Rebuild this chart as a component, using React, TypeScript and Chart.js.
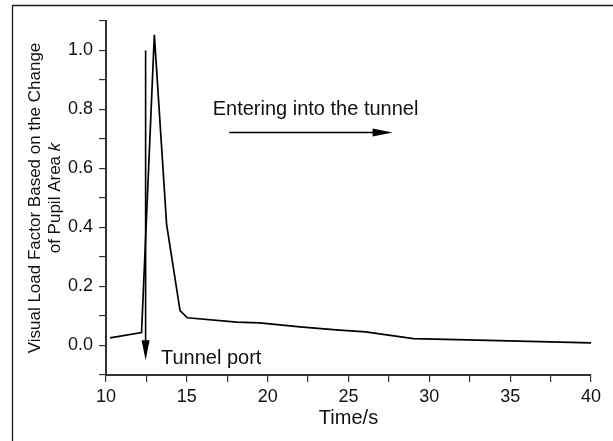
import React, { useEffect, useRef } from 'react';
import { Chart, registerables } from 'chart.js';

Chart.register(...registerables);

// Time (s) and visual load factor k
const timeValues = [10.25, 12.2, 12.99, 13.75, 14.58, 15.03, 18.08, 19.5, 22.0, 24.24, 26.05, 29.02, 33.0, 40.0];
const loadValues = [0.026, 0.044, 1.053, 0.41, 0.118, 0.094, 0.079, 0.077, 0.063, 0.053, 0.046, 0.023, 0.018, 0.009];

const xTickLabels = ['10', '15', '20', '25', '30', '35', '40'];
const yTickLabels = ['0.0', '0.2', '0.4', '0.6', '0.8', '1.0'];

const xTitle = 'Time/s';
const yTitleLine1 = 'Visual Load Factor Based on the Change';
const yTitleLine2 = 'of Pupil Area ';
const yTitleItalic = 'k';

// annotations in data coordinates
const portArrow = [12.45, 1.0, -0.05]; // x, yFrom, yTo
const enterArrow = [0.722, 17.62, 27.73]; // y, xFrom, xTo
const portLabel = { text: 'Tunnel port', x: 13.4, y: -0.062 };
const enterLabel = { text: 'Entering into the tunnel', x: 16.6, y: 0.782 };

const FONT = '"Liberation Sans", Arial, sans-serif';

const annotPlugin = {
  id: 'annot',
  afterDraw(chart: any) {
    const ctx = chart.ctx as CanvasRenderingContext2D;
    ctx.save();
    const xs = chart.scales.x;
    const ys = chart.scales.y;
    const ca = chart.chartArea;

    // outer frame (cropped on right/bottom)
    ctx.strokeStyle = '#1a1a1a';
    ctx.lineWidth = 1.3;
    ctx.beginPath();
    ctx.moveTo(12.5, chart.height + 5);
    ctx.lineTo(12.5, 5.5);
    ctx.lineTo(chart.width + 5, 5.5);
    ctx.stroke();

    ctx.fillStyle = '#000';
    ctx.strokeStyle = '#000';
    ctx.lineWidth = 1.6;

    // vertical arrow (tunnel port)
    const vx = xs.getPixelForValue(portArrow[0]);
    const vy1 = ys.getPixelForValue(portArrow[1]);
    const vy2 = ys.getPixelForValue(portArrow[2]);
    ctx.beginPath();
    ctx.moveTo(vx, vy1);
    ctx.lineTo(vx, vy2 - 18);
    ctx.stroke();
    ctx.beginPath();
    ctx.moveTo(vx - 4, vy2 - 20);
    ctx.lineTo(vx + 4, vy2 - 20);
    ctx.lineTo(vx, vy2);
    ctx.closePath();
    ctx.fill();

    // horizontal arrow (entering)
    const hy = ys.getPixelForValue(enterArrow[0]);
    const hx1 = xs.getPixelForValue(enterArrow[1]);
    const hx2 = xs.getPixelForValue(enterArrow[2]);
    ctx.beginPath();
    ctx.moveTo(hx1, hy);
    ctx.lineTo(hx2 - 18, hy);
    ctx.stroke();
    ctx.beginPath();
    ctx.moveTo(hx2 - 20, hy - 4);
    ctx.lineTo(hx2 - 20, hy + 4);
    ctx.lineTo(hx2, hy);
    ctx.closePath();
    ctx.fill();

    // annotation texts
    ctx.fillStyle = '#111';
    ctx.font = `20px ${FONT}`;
    ctx.textAlign = 'left';
    ctx.textBaseline = 'alphabetic';
    ctx.fillText(enterLabel.text, xs.getPixelForValue(enterLabel.x), ys.getPixelForValue(enterLabel.y));
    ctx.fillText(portLabel.text, xs.getPixelForValue(portLabel.x), ys.getPixelForValue(portLabel.y));

    // y axis title (two lines, italic k)
    const cy = (ca.top + ca.bottom) / 2;
    ctx.font = `17px ${FONT}`;
    ctx.save();
    ctx.translate(40, cy);
    ctx.rotate(-Math.PI / 2);
    ctx.textAlign = 'center';
    ctx.fillText(yTitleLine1, 0, 0);
    ctx.restore();

    ctx.save();
    ctx.translate(60, cy);
    ctx.rotate(-Math.PI / 2);
    ctx.textAlign = 'left';
    ctx.font = `17px ${FONT}`;
    const w1 = ctx.measureText(yTitleLine2).width;
    ctx.font = `italic 17px ${FONT}`;
    const w2 = ctx.measureText(yTitleItalic).width;
    const start = -(w1 + w2) / 2;
    ctx.font = `17px ${FONT}`;
    ctx.fillText(yTitleLine2, start, 0);
    ctx.font = `italic 17px ${FONT}`;
    ctx.fillText(yTitleItalic, start + w1, 0);
    ctx.restore();

    ctx.restore();
  },
};

export default function App() {
  const ref = useRef<HTMLCanvasElement>(null);

  useEffect(() => {
    if (!ref.current) return;
    const data = timeValues.map((t, i) => ({ x: t, y: loadValues[i] }));
    const chart = new Chart(ref.current, {
      type: 'line',
      data: {
        datasets: [
          {
            data,
            borderColor: '#000',
            borderWidth: 1.7,
            pointRadius: 0,
            tension: 0,
            fill: false,
          },
        ],
      },
      options: {
        responsive: false,
        animation: false,
        devicePixelRatio: 1,
        layout: { padding: { left: 0, top: 21, right: 22, bottom: 0 } },
        plugins: {
          legend: { display: false },
          tooltip: { enabled: false },
        },
        scales: {
          x: {
            type: 'linear',
            min: 10,
            max: 40,
            afterFit: (s: any) => {
              s.height = 66;
            },
            ticks: {
              stepSize: 2.5,
              autoSkip: false,
              maxRotation: 0,
              padding: 4,
              color: '#111',
              font: { family: FONT, size: 18 },
              callback: (v: any) => {
                const s = String(v);
                return xTickLabels.includes(s) ? s : '';
              },
            },
            grid: {
              drawOnChartArea: false,
              drawTicks: true,
              tickLength: 7,
              color: '#333',
              lineWidth: 1.2,
            },
            border: { display: true, color: '#333', width: 2 },
            title: {
              display: true,
              text: xTitle,
              color: '#111',
              font: { family: FONT, size: 20 },
              padding: { top: 0, bottom: 11 },
            },
          },
          y: {
            type: 'linear',
            min: -0.1,
            max: 1.1,
            afterFit: (s: any) => {
              s.width = 106;
            },
            ticks: {
              stepSize: 0.1,
              autoSkip: false,
              padding: 6,
              color: '#111',
              font: { family: FONT, size: 18 },
              callback: (v: any) => {
                const s = (Math.round(Number(v) * 10) / 10).toFixed(1);
                return yTickLabels.includes(s) ? s : '';
              },
            },
            grid: {
              drawOnChartArea: false,
              drawTicks: true,
              tickLength: 7,
              color: '#333',
              lineWidth: 1.2,
            },
            border: { display: true, color: '#333', width: 2 },
            title: { display: false },
          },
        },
      },
      plugins: [annotPlugin],
    });
    return () => chart.destroy();
  }, []);

  return (
    <div style={{ position: 'absolute', left: 0, top: 0, width: 613, height: 441, background: '#fff' }}>
      <canvas ref={ref} width={613} height={441} style={{ display: 'block' }} />
    </div>
  );
}
